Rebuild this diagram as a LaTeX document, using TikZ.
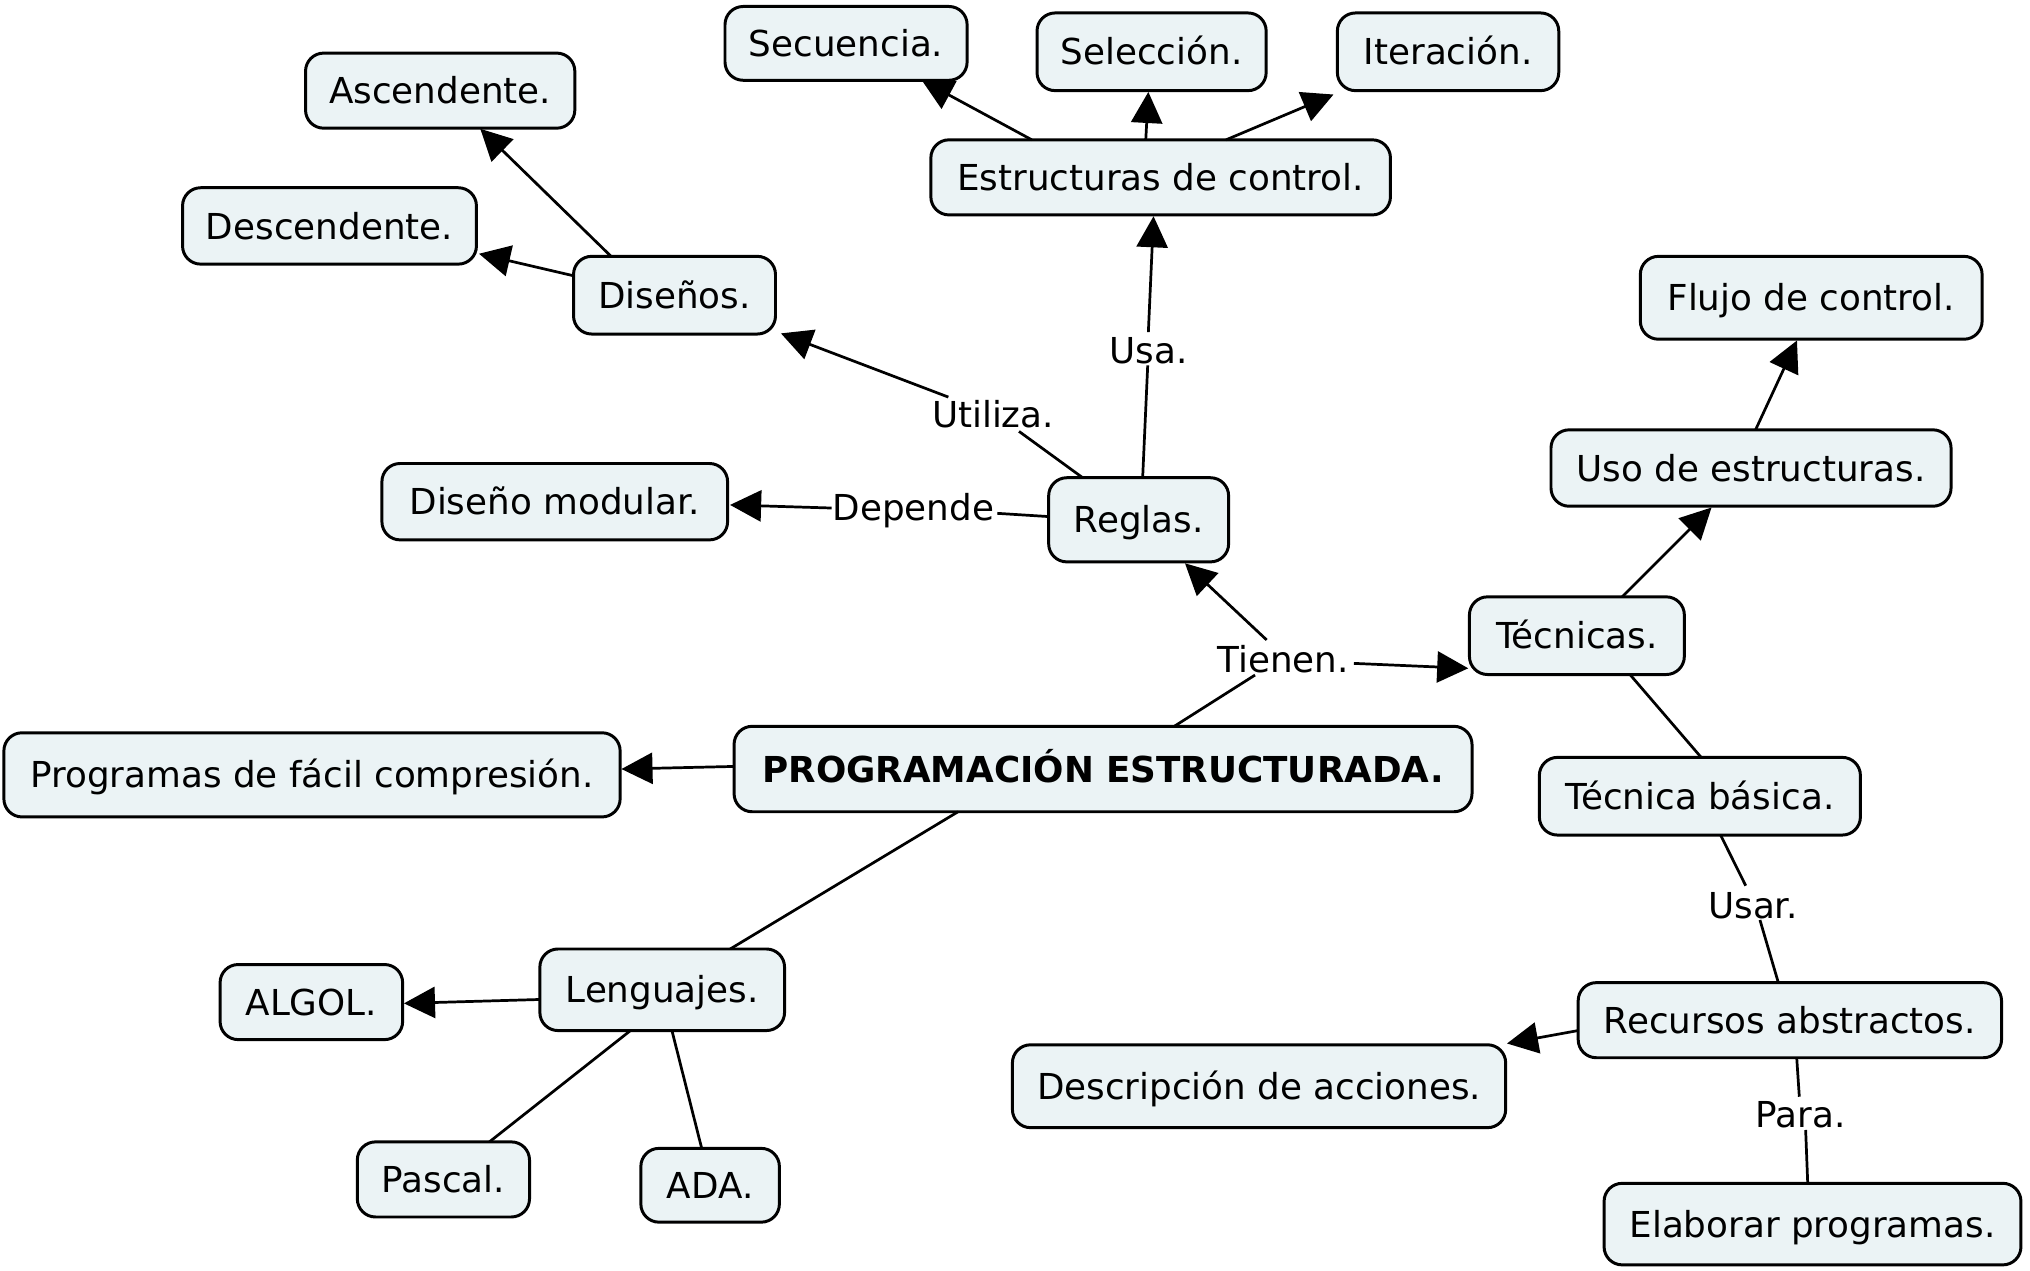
\documentclass[tikz,border=0pt]{standalone}
\usepackage{fontspec}
\setmainfont{DejaVu Sans}
\usetikzlibrary{arrows.meta,calc}
\definecolor{boxfill}{RGB}{235,243,245}
\begin{document}
\begin{tikzpicture}[x=0.5pt,y=-0.5pt,
  txt/.style={font=\fontsize{13.8pt}{16pt}\selectfont,text height=10.1pt,text depth=0pt,inner sep=0pt},
  box/.style={txt,draw=black,line width=1.15pt,rounded corners=7pt,fill=boxfill},
  lbl/.style={txt},
  link/.style={line width=1.05pt},
  arr/.style={line width=1.05pt,-{Triangle[length=12pt,width=12pt]}}]
\useasboundingbox (0,0) rectangle (1568,981);
% concepts
\node[box,minimum width=93.5pt,minimum height=28.5pt] (secu) at (653.5,33.5) {Secuencia.};
\node[box,minimum width=88.5pt,minimum height=30pt] (sele) at (889.5,40) {Selección.};
\node[box,minimum width=85.5pt,minimum height=30pt] (iter) at (1118.5,40) {Iteración.};
\node[box,minimum width=104pt,minimum height=29pt] (asce) at (340,70) {Ascendente.};
\node[box,minimum width=177.5pt,minimum height=29pt] (estr) at (896.5,137) {Estructuras de control.};
\node[box,minimum width=113.5pt,minimum height=29.5pt] (desc) at (254.5,174.5) {Descendente.};
\node[box,minimum width=78pt,minimum height=30pt] (dise) at (521,228) {Diseños.};
\node[box,minimum width=132pt,minimum height=32pt] (flujo) at (1399,230) {Flujo de control.};
\node[box,minimum width=154.5pt,minimum height=29.5pt] (uso) at (1352.5,361.5) {Uso de estructuras.};
\node[box,minimum width=133.5pt,minimum height=29.5pt] (modu) at (428.5,387.5) {Diseño modular.};
\node[box,minimum width=69.5pt,minimum height=32.5pt] (regl) at (879.5,401.5) {Reglas.};
\node[box,minimum width=83pt,minimum height=30pt] (tecn) at (1218,491) {Técnicas.};
\node[box,minimum width=285pt,minimum height=33pt] (prog) at (852,594) {\bfseries PROGRAMACIÓN ESTRUCTURADA.};
\node[box,minimum width=238pt,minimum height=32.5pt] (prgf) at (241,598.5) {Programas de fácil compresión.};
\node[box,minimum width=124pt,minimum height=30pt] (basi) at (1313,615) {Técnica básica.};
\node[box,minimum width=94.5pt,minimum height=31.5pt] (leng) at (511.5,764.5) {Lenguajes.};
\node[box,minimum width=70.5pt,minimum height=29pt] (algo) at (240.5,774) {ALGOL.};
\node[box,minimum width=163.5pt,minimum height=29pt] (recu) at (1382.5,788) {Recursos abstractos.};
\node[box,minimum width=190.5pt,minimum height=32pt] (descr) at (972.5,839) {Descripción de acciones.};
\node[box,minimum width=66.5pt,minimum height=29pt] (pasc) at (342.5,911) {Pascal.};
\node[box,minimum width=53.5pt,minimum height=28.5pt] (ada) at (548.5,915.5) {ADA.};
\node[box,minimum width=161pt,minimum height=31.5pt] (elab) at (1400,945.5) {Elaborar programas.};
% linking phrases
\node[lbl] (usa) at (887,270.3) {Usa.};
\node[lbl] (util) at (767,319.8) {Utiliza.};
\node[lbl] (depe) at (705.5,392) {Depende};
\node[lbl] (tien) at (991,509) {Tienen.};
\node[lbl] (usar) at (1354,699) {Usar.};
\node[lbl] (para) at (1391,861) {Para.};
% connectors
\draw[link] ($(prog)+(55,-33)$) -- ($(tien)+(-21.6,12.4)$);
\draw[arr] ($(tien)+(-12.6,-14.7)$) -- ($(regl)+(35.8,33.6)$);
\draw[arr] ($(tien)+(54.8,3.4)$) -- ($(tecn)+(-83.9,25.2)$);
\draw[link] ($(regl)+(3.1,-32.5)$) -- ($(usa)+(-0.5,11.9)$);
\draw[arr] ($(usa)+(0,-13.8)$) -- ($(estr)+(-5.5,30)$);
\draw[link] ($(regl)+(-43.2,-32.5)$) -- ($(util)+(20.1,13.4)$);
\draw[arr] ($(util)+(-34.5,-13.1)$) -- ($(dise)+(82.2,29.5)$);
\draw[link] ($(regl)+(-69.5,-2.5)$) -- ($(depe)+(64.8,4.5)$);
\draw[arr] ($(depe)+(-63.1,0.4)$) -- ($(modu)+(135.4,2.5)$);
\draw[arr] ($(estr)+(-99.5,-29)$) -- ($(secu)+(58.5,28.5)$);
\draw[arr] ($(estr)+(-11.5,-29)$) -- ($(sele)+(-2.5,31)$);
\draw[arr] ($(estr)+(50.5,-29)$) -- ($(iter)+(-88.5,33)$);
\draw[arr] ($(dise)+(-49,-30)$) -- ($(asce)+(31,29.5)$);
\draw[arr] ($(dise)+(-78,-15)$) -- ($(desc)+(115.5,21.5)$);
\draw[arr] ($(tecn)+(35,-30)$) -- ($(uso)+(-30.5,30.5)$);
\draw[arr] ($(uso)+(3.5,-29.5)$) -- ($(flujo)+(-11,33)$);
\draw[link] ($(tecn)+(41,30)$) -- ($(basi)+(1,-30)$);
\draw[link] ($(basi)+(16,30)$) -- ($(usar)+(-5.6,-14.9)$);
\draw[link] ($(usar)+(5.4,11.6)$) -- ($(recu)+(-8.9,-29)$);
\draw[arr] ($(recu)+(-163.5,8)$) -- ($(descr)+(191.5,-33)$);
\draw[link] ($(recu)+(5.3,29)$) -- ($(para)+(-1.2,-13.9)$);
\draw[link] ($(para)+(3.7,11.8)$) -- ($(elab)+(-3.7,-31.5)$);
\draw[arr] ($(prog)+(-285,-2)$) -- ($(prgf)+(239,-4.5)$);
\draw[link] ($(prog)+(-112,33)$) -- ($(leng)+(52.5,-31.5)$);
\draw[arr] ($(leng)+(-94.5,7.5)$) -- ($(algo)+(71.5,1)$);
\draw[link] ($(leng)+(-24.5,31.5)$) -- ($(pasc)+(35.5,-29)$);
\draw[link] ($(leng)+(7.5,31.5)$) -- ($(ada)+(-6.5,-28.5)$);
\end{tikzpicture}
\end{document}
